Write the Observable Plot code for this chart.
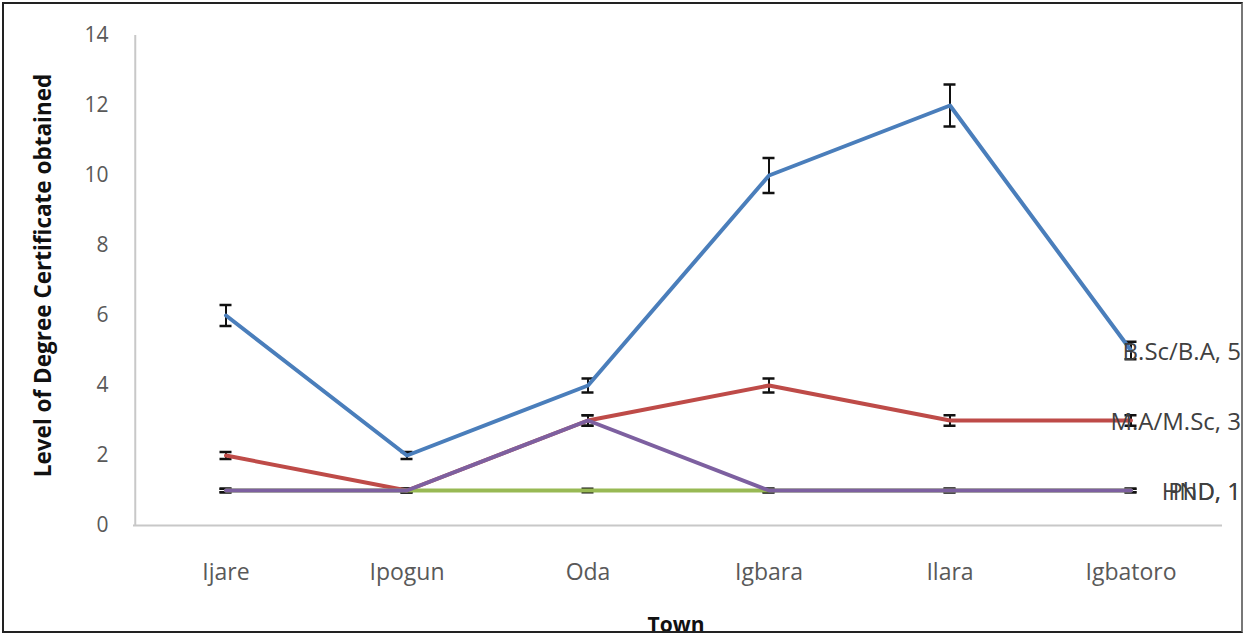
<!DOCTYPE html>
<html>
<head>
<meta charset="utf-8">
<script src="https://cdn.jsdelivr.net/npm/d3@7"></script>
<script src="https://cdn.jsdelivr.net/npm/@observablehq/plot@0.6"></script>
<style>
  html, body { margin: 0; padding: 0; background: #fff; }
  #wrap { position: relative; width: 1245px; height: 635px; overflow: hidden; }
  #frame { position: absolute; left: 2px; top: 2px; width: 1237px; height: 627px; border: 2px solid #222; border-right-color: #777; pointer-events: none; }
  svg { overflow: visible; }
</style>
</head>
<body>
<div id="wrap"><div id="chart"></div><div id="frame"></div></div>
<script>
const towns = ["Ijare", "Ipogun", "Oda", "Igbara", "Ilara", "Igbatoro"];
const seriesNames = ["B.Sc/B.A", "M.A/M.Sc", "HND", "PhD"];
const bscValues = [6, 2, 4, 10, 12, 5];
const mscValues = [2, 1, 3, 4, 3, 3];
const hndValues = [1, 1, 1, 1, 1, 1];
const phdValues = [1, 1, 3, 1, 1, 1];
const errorFraction = 0.05;
const colors = ["#4A7EBB", "#BE4B48", "#98B954", "#7D60A0"];
const yTicks = [0, 2, 4, 6, 8, 10, 12, 14];

const allValues = [bscValues, mscValues, hndValues, phdValues];
const data = [];
seriesNames.forEach((s, si) => {
  towns.forEach((t, ti) => {
    const v = allValues[si][ti];
    data.push({series: s, town: t, value: v, lo: v * (1 - errorFraction), hi: v * (1 + errorFraction)});
  });
});
const lastTown = towns[towns.length - 1];
const endLabels = data.filter(d => d.town === lastTown);

const font = "'Open Sans', Lato, sans-serif";
const chart = Plot.plot({
  width: 1245,
  height: 635,
  marginLeft: 133,
  marginRight: 23,
  marginTop: 35,
  marginBottom: 110,
  style: {fontFamily: font, fontSize: "18px", color: "#595959", background: "transparent", overflow: "visible"},
  x: {type: "band", domain: towns, padding: 0, label: null},
  y: {domain: [0, 14], label: null},
  color: {domain: seriesNames, range: colors},
  marks: [
    Plot.axisY({ticks: yTicks, tickSize: 0, tickPadding: 25, fontSize: 21, fill: "#595959", label: null}),
    Plot.axisX({tickSize: 0, tickPadding: 38, fontSize: 23, fill: "#595959", label: null}),
    Plot.ruleX([0], {x: () => towns[0], dx: -90.75, y1: 0, y2: 14, stroke: "#c8c8c8", strokeWidth: 2}),
    Plot.ruleY([0], {stroke: "#c8c8c8", strokeWidth: 2}),
    Plot.ruleX(data, {x: "town", y1: "lo", y2: "hi", stroke: "#111", strokeWidth: 2}),
    Plot.tickY(data, {x: "town", y: "lo", stroke: "#111", strokeWidth: 2.5, inset: 84.5}),
    Plot.tickY(data, {x: "town", y: "hi", stroke: "#111", strokeWidth: 2.5, inset: 84.5}),
    Plot.line(data, {x: "town", y: "value", z: "series", stroke: "series", strokeWidth: 4, curve: "linear"}),
    Plot.text(endLabels, {x: "town", y: "value", text: d => `${d.series}, ${d.value}`, textAnchor: "end", dx: 110, dy: 2, fontSize: 24, fill: "#404040"}),
    Plot.text(["Level of Degree Certificate obtained"], {frameAnchor: "left", textAnchor: "middle", dx: -90, dy: -5, rotate: -90, fontWeight: "bold", fontSize: 22.5, fill: "#111", text: d => d}),
    Plot.text(["Town"], {frameAnchor: "bottom", textAnchor: "middle", dx: -2, dy: 106, fontWeight: "bold", fontSize: 21, fill: "#111", text: d => d})
  ]
});
document.getElementById("chart").appendChild(chart);
</script>
</body>
</html>
